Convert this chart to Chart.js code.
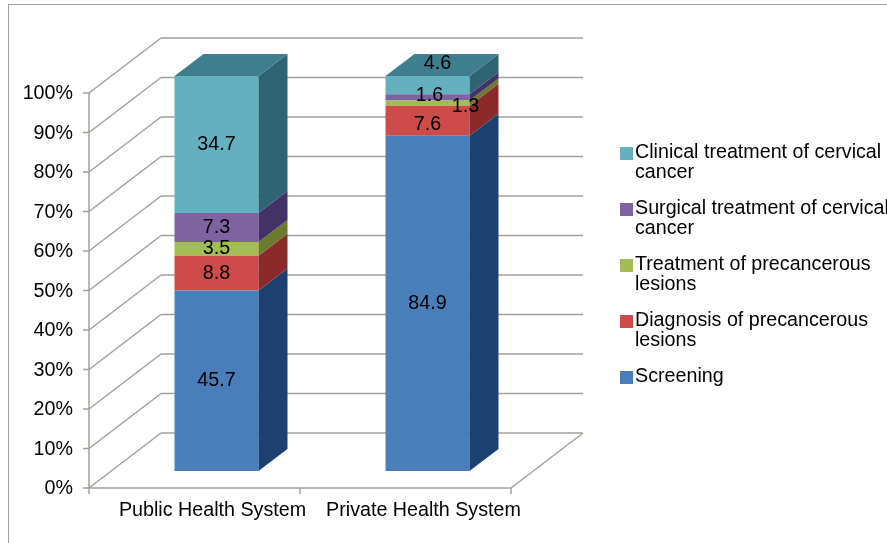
<!DOCTYPE html>
<html>
<head>
<meta charset="utf-8">
<script src="https://cdn.jsdelivr.net/npm/chart.js@4.4.1/dist/chart.umd.min.js"></script>
<style>
  html, body { margin: 0; padding: 0; background: #fff; }
  #wrap { position: relative; width: 887px; height: 543px; }
</style>
</head>
<body>
<div id="wrap"><canvas id="chart" width="887" height="543"></canvas></div>
<script>
/* ───────────── data ───────────── */
const categories = ['Public Health System', 'Private Health System'];
const yTicks = [0, 10, 20, 30, 40, 50, 60, 70, 80, 90, 100];

const screening = [45.7, 84.9];
const diagnosis = [8.8, 7.6];
const precancerTreatment = [3.5, 1.3];
const surgicalTreatment = [7.3, 1.6];
const clinicalTreatment = [34.7, 4.6];

const seriesLabels = [
  ['Screening'],
  ['Diagnosis of precancerous', 'lesions'],
  ['Treatment of precancerous', 'lesions'],
  ['Surgical treatment of cervical', 'cancer'],
  ['Clinical treatment of cervical', 'cancer'],
];

/* ───────────── styles ───────────── */
const FONT = '"Liberation Sans", Arial, sans-serif';
const FSIZE = 19.7;
const GRID = '#a39f9b';
const FRONT = ['#4a7ebb', '#cd4b48', '#a2bd52', '#7e62a1', '#63b0be'];
const SIDE = ['#1c4170', '#8a2a2a', '#6b7a2c', '#433266', '#2f6474'];
const TOP = ['#2d5d94', '#a53a38', '#85993e', '#5f4a85', '#3f7e8d'];

// 3D offsets relative to the bar plane (chart area)
const FRONT_OFF = { x: -22, y: 17 };
const BACK_OFF = { x: 50, y: -38 };
const BAR_DEPTH = { x: 29, y: -22 };

// nudges for the small labels that Excel moves off the face
const labelShift = [
  [[0, 0], [0, 0]],
  [[0, 0], [0, 4]],
  [[0, 0], [38, 4]],
  [[0, 0], [2, -2]],
  [[0, 0], [10, -22]],
];

/* ───────────── 3D plugin ───────────── */
function line(ctx, x1, y1, x2, y2) {
  ctx.beginPath();
  ctx.moveTo(x1, y1);
  ctx.lineTo(x2, y2);
  ctx.stroke();
}

function poly(ctx, pts, color) {
  ctx.beginPath();
  ctx.moveTo(pts[0][0], pts[0][1]);
  for (let i = 1; i < pts.length; i++) ctx.lineTo(pts[i][0], pts[i][1]);
  ctx.closePath();
  ctx.fillStyle = color;
  ctx.fill();
}

const threeD = {
  id: 'threeD',
  beforeDraw(chart) {
    const { ctx } = chart;
    ctx.save();
    ctx.strokeStyle = '#a0a0a0';
    ctx.lineWidth = 1;
    ctx.strokeRect(8.5, 4.5, 1000, 1000);
    ctx.restore();
  },
  beforeDatasetsDraw(chart) {
    const { ctx, chartArea: a, scales: { y } } = chart;
    ctx.save();
    ctx.strokeStyle = GRID;
    ctx.lineWidth = 1.5;
    for (const v of yTicks) {
      const py = y.getPixelForValue(v);
      line(ctx, a.left + FRONT_OFF.x, py + FRONT_OFF.y, a.left + BACK_OFF.x, py + BACK_OFF.y);
      line(ctx, a.left + BACK_OFF.x, py + BACK_OFF.y, a.right + BACK_OFF.x, py + BACK_OFF.y);
      line(ctx, a.left + FRONT_OFF.x - 6, py + FRONT_OFF.y, a.left + FRONT_OFF.x, py + FRONT_OFF.y);
    }
    const y0 = y.getPixelForValue(0);
    const y100 = y.getPixelForValue(100);
    line(ctx, a.left + FRONT_OFF.x, y0 + FRONT_OFF.y, a.left + FRONT_OFF.x, y100 + FRONT_OFF.y);
    line(ctx, a.left + FRONT_OFF.x, y0 + FRONT_OFF.y, a.right + FRONT_OFF.x, y0 + FRONT_OFF.y);
    line(ctx, a.right + FRONT_OFF.x, y0 + FRONT_OFF.y, a.right + BACK_OFF.x, y0 + BACK_OFF.y);
    const n = categories.length;
    for (let i = 0; i <= n; i++) {
      const bx = a.left + (i * (a.right - a.left)) / n + FRONT_OFF.x;
      line(ctx, bx, y0 + FRONT_OFF.y, bx, y0 + FRONT_OFF.y + 6);
    }
    ctx.restore();
  },
  afterDatasetsDraw(chart) {
    const { ctx } = chart;
    const count = chart.data.datasets.length;
    ctx.save();
    // side and top faces
    for (let d = 0; d < count; d++) {
      const meta = chart.getDatasetMeta(d);
      meta.data.forEach((el) => {
        const { x, y, base, width } = el.getProps(['x', 'y', 'base', 'width'], true);
        const l = x - width / 2;
        const r = x + width / 2;
        poly(ctx, [[r, y], [r + BAR_DEPTH.x, y + BAR_DEPTH.y], [r + BAR_DEPTH.x, base + BAR_DEPTH.y], [r, base]], SIDE[d]);
        if (d === count - 1) {
          poly(ctx, [[l, y], [l + BAR_DEPTH.x, y + BAR_DEPTH.y], [r + BAR_DEPTH.x, y + BAR_DEPTH.y], [r, y]], TOP[d]);
        }
      });
    }
    // value labels
    ctx.fillStyle = '#000';
    ctx.font = FSIZE + 'px ' + FONT;
    ctx.textAlign = 'center';
    ctx.textBaseline = 'middle';
    for (let d = 0; d < count; d++) {
      const meta = chart.getDatasetMeta(d);
      const values = chart.data.datasets[d].data;
      meta.data.forEach((el, i) => {
        const { x, y, base } = el.getProps(['x', 'y', 'base'], true);
        const s = labelShift[d][i];
        ctx.fillText(values[i].toFixed(1), x + s[0], (y + base) / 2 + s[1]);
      });
    }
    ctx.restore();
  },
  afterDraw(chart) {
    const { ctx } = chart;
    ctx.save();
    ctx.font = FSIZE + 'px ' + FONT;
    ctx.textAlign = 'left';
    ctx.textBaseline = 'alphabetic';
    const order = chart.data.datasets.map((_, i) => i).reverse();
    order.forEach((d, k) => {
      const base = 158 + k * 56;
      ctx.fillStyle = FRONT[d];
      ctx.fillRect(620, base - 11, 13, 13);
      ctx.fillStyle = '#000';
      seriesLabels[d].forEach((txt, j) => ctx.fillText(txt, 635, base + j * 20));
    });
    ctx.restore();
  },
};

/* ───────────── chart ───────────── */
const seriesValues = [screening, diagnosis, precancerTreatment, surgicalTreatment, clinicalTreatment];

new Chart(document.getElementById('chart').getContext('2d'), {
  type: 'bar',
  data: {
    labels: categories,
    datasets: seriesValues.map((vals, i) => ({
      label: seriesLabels[i].join(' '),
      data: vals,
      backgroundColor: FRONT[i],
      borderWidth: 0,
      categoryPercentage: 1,
      barPercentage: 0.398,
    })),
  },
  options: {
    responsive: false,
    animation: false,
    devicePixelRatio: 1,
    layout: { padding: { top: 76, right: 354, left: 0, bottom: 0 } },
    plugins: { legend: { display: false }, tooltip: { enabled: false } },
    scales: {
      x: {
        stacked: true,
        grid: { display: false, drawTicks: false },
        border: { display: false },
        ticks: { color: '#000', font: { size: FSIZE, family: FONT }, padding: 28, labelOffset: -4, maxRotation: 0 },
        afterFit: (s) => { s.height = 72; },
      },
      y: {
        stacked: true,
        min: 0,
        max: 100,
        grid: { display: false, drawTicks: false },
        border: { display: false },
        ticks: {
          stepSize: 10,
          color: '#000',
          font: { size: FSIZE, family: FONT },
          padding: 38,
          labelOffset: 18,
          callback: (v) => v + '%',
        },
        afterFit: (s) => { s.width = 111; },
      },
    },
  },
  plugins: [threeD],
});
</script>
</body>
</html>
